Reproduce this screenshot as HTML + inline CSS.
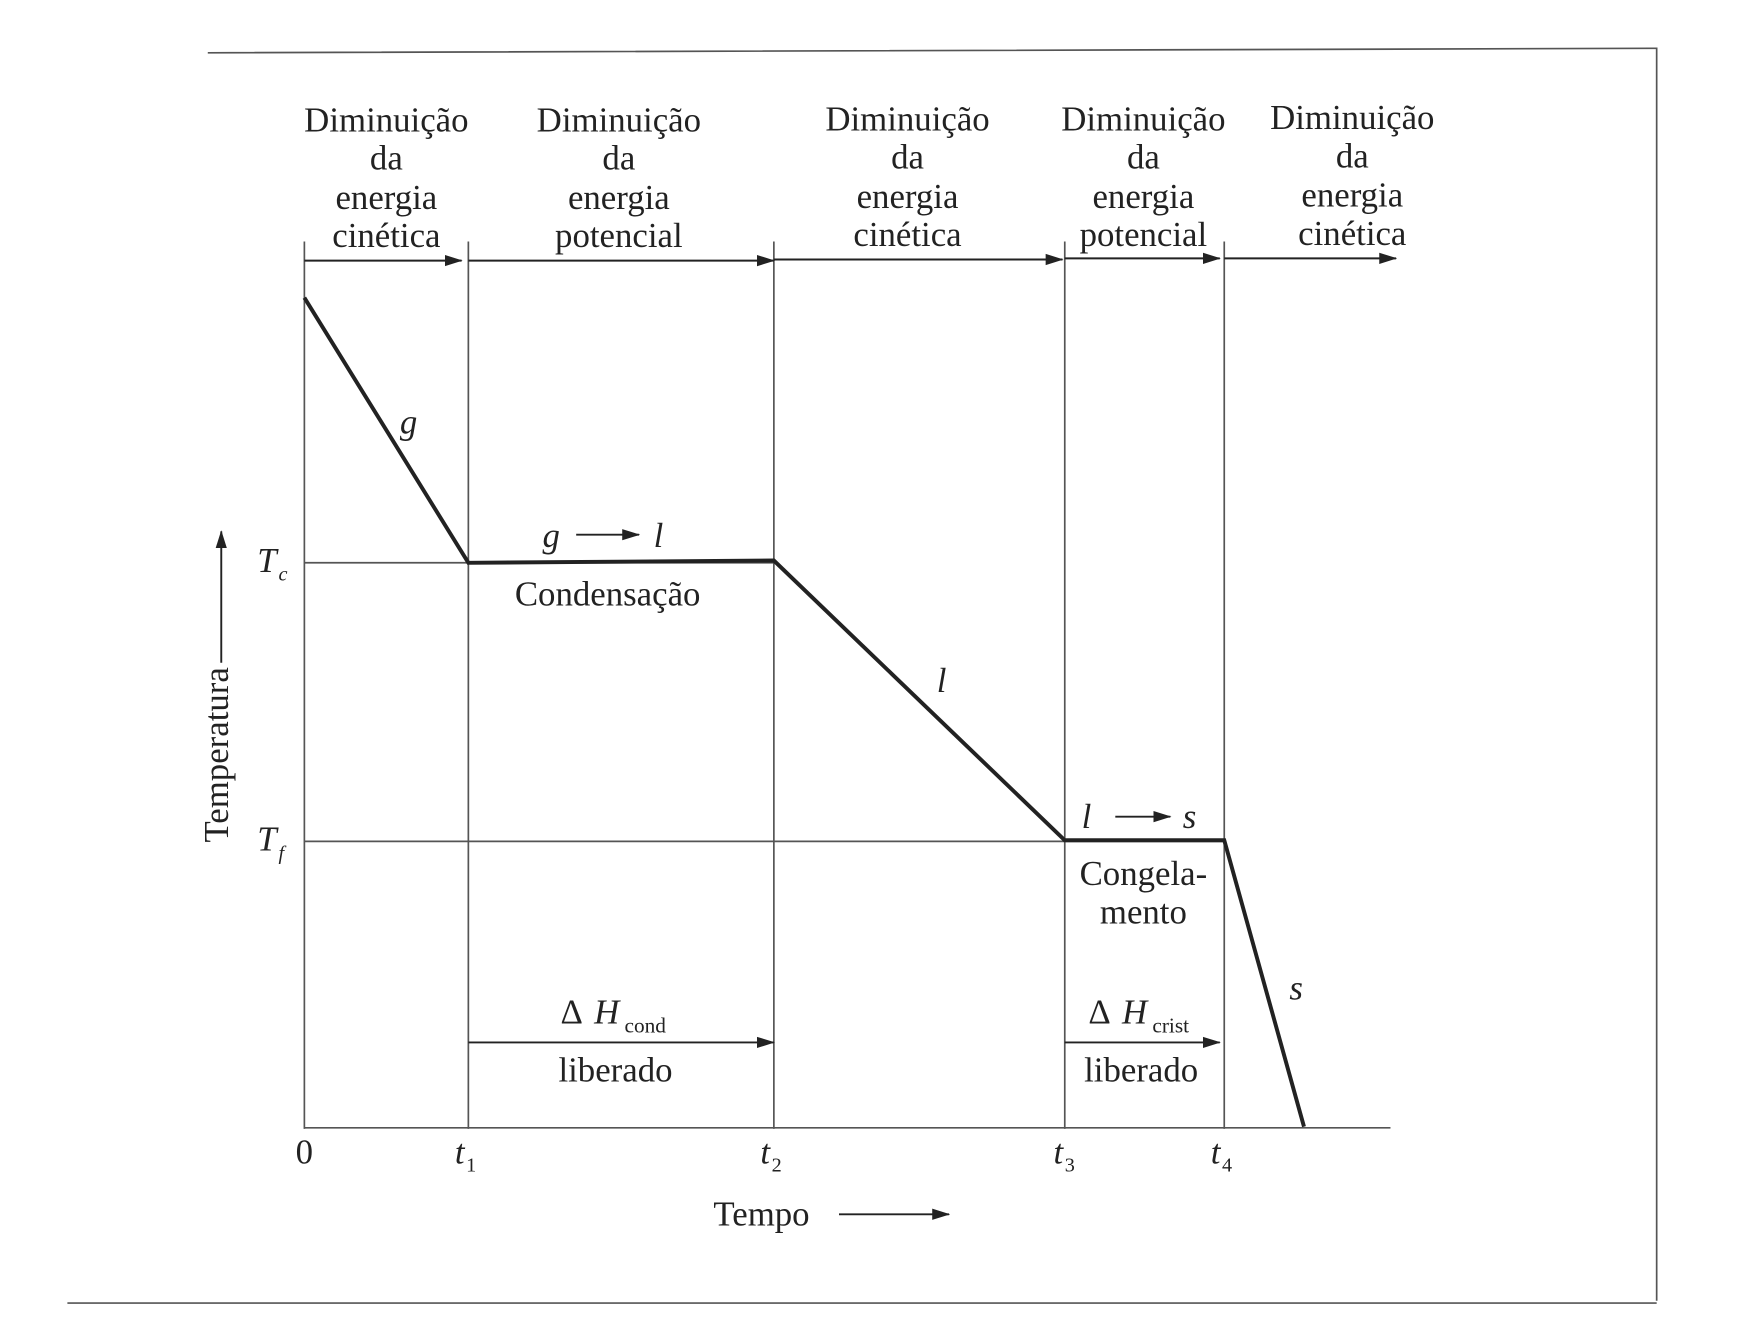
<!DOCTYPE html>
<html><head><meta charset="utf-8"><style>
html,body{margin:0;padding:0;background:#fff;}
svg{display:block;}
text{font-family:"Liberation Serif",serif;fill:#222;}
.i{font-style:italic;}
</style></head><body>
<svg width="1760" height="1330" viewBox="0 0 1567 1184" preserveAspectRatio="none" xmlns="http://www.w3.org/2000/svg">
<defs><marker id="a" markerWidth="16" markerHeight="12" refX="15" refY="6" orient="auto" markerUnits="userSpaceOnUse"><path d="M0,1 L16,6 L0,11 z" fill="#222"/></marker></defs>
<g stroke="#555" stroke-width="1.5" fill="none">
<path d="M185,47 L1475,43 L1475,1158"/>
<path d="M60,1160 L1475,1160"/>
<path d="M271,215 V1005 M417,215 V1005 M689,215 V1005 M948,215 V1005 M1090,215 V1005"/>
<path d="M271,501 H689 M271,749 H1090 M271,1004 H1238"/>
</g>
<g stroke="#222" stroke-width="1.7" marker-end="url(#a)">
<line x1="271" y1="232" x2="411" y2="232"/>
<line x1="417" y1="232" x2="689" y2="232"/>
<line x1="689" y1="231" x2="946" y2="231"/>
<line x1="948" y1="230" x2="1086" y2="230"/>
<line x1="1090" y1="230" x2="1243" y2="230"/>
<line x1="417" y1="928" x2="689" y2="928"/>
<line x1="948" y1="928" x2="1086" y2="928"/>
<line x1="513" y1="476" x2="569" y2="476"/>
<line x1="993" y1="727" x2="1042" y2="727"/>
<line x1="747" y1="1081" x2="845" y2="1081"/>
<line x1="197" y1="590" x2="197" y2="473"/>
</g>
<path d="M271,265 L417,501 L689,499 L948,748 L1090,748 L1161,1003" stroke="#222" stroke-width="3.5" fill="none" stroke-linejoin="miter"/>
<g font-size="31" text-anchor="middle">
<text x="344" y="117">Diminuição</text><text x="344" y="151">da</text><text x="344" y="186">energia</text><text x="344" y="220">cinética</text>
<text x="551" y="117">Diminuição</text><text x="551" y="151">da</text><text x="551" y="186">energia</text><text x="551" y="220">potencial</text>
<text x="808" y="116">Diminuição</text><text x="808" y="150">da</text><text x="808" y="185">energia</text><text x="808" y="219">cinética</text>
<text x="1018" y="116">Diminuição</text><text x="1018" y="150">da</text><text x="1018" y="185">energia</text><text x="1018" y="219">potencial</text>
<text x="1204" y="115">Diminuição</text><text x="1204" y="149">da</text><text x="1204" y="184">energia</text><text x="1204" y="218">cinética</text>
<text x="541" y="539">Condensação</text>
<text x="1018" y="788">Congela-</text><text x="1018" y="822">mento</text>
<text x="548" y="963">liberado</text><text x="1016" y="963">liberado</text>
<text x="678" y="1091">Tempo</text>
<text x="271" y="1036">0</text>
</g>
<g font-size="31" class="i">
<text x="356" y="386" class="i">g</text>
<text x="483" y="487" class="i">g</text>
<text x="582" y="487" class="i">l</text>
<text x="834" y="616" class="i">l</text>
<text x="963" y="737" class="i">l</text>
<text x="1053" y="737" class="i">s</text>
<text x="1148" y="890" class="i">s</text>
</g>
<text x="499" y="911" font-size="31">Δ</text><text x="529" y="911" font-size="31" class="i">H</text><text x="556" y="919" font-size="19">cond</text>
<text x="969" y="911" font-size="31">Δ</text><text x="999" y="911" font-size="31" class="i">H</text><text x="1026" y="919" font-size="19">crist</text>
<g font-size="31">
<text x="405" y="1036" class="i">t</text><text x="415" y="1043" font-size="18">1</text>
<text x="677" y="1036" class="i">t</text><text x="687" y="1043" font-size="18">2</text>
<text x="938" y="1036" class="i">t</text><text x="948" y="1043" font-size="18">3</text>
<text x="1078" y="1036" class="i">t</text><text x="1088" y="1043" font-size="18">4</text>
<text x="229" y="509" class="i">T</text><text x="248" y="517" font-size="18" class="i">c</text>
<text x="229" y="757" class="i">T</text><text x="248" y="765" font-size="18" class="i">f</text>
<text x="0" y="0" font-size="31" text-anchor="middle" transform="translate(203,672) rotate(-90)">Temperatura</text>
</g>
</svg>
</body></html>
